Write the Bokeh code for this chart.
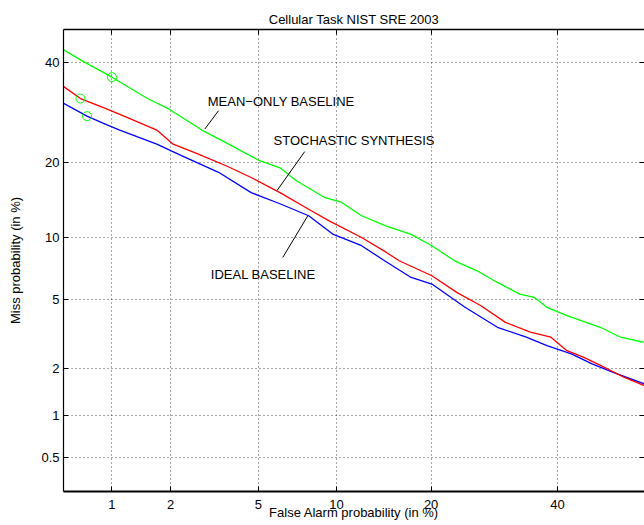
from statistics import NormalDist
from bokeh.plotting import figure
from bokeh.models import Label, LinearAxis, FixedTicker, Range1d
from bokeh.embed import file_html
from bokeh.resources import INLINE

# ---------------- data (percent) ----------------
fa_ticks = [1, 2, 5, 10, 20, 40]
miss_ticks = [0.5, 1, 2, 5, 10, 20, 40]
fa_limits = [0.536, 56.0]
miss_limits = [0.278, 47.5]

ideal_fa = [0.53, 0.73, 0.90, 1.10, 1.71, 2.26, 3.36, 4.66, 6.12, 7.91, 9.74, 12.2, 14.5,
            17.5, 20.1, 24.7, 29.7, 34.5, 38.1, 42.5, 46.3, 50.1, 56.0]
ideal_miss = [31.1, 28.4, 27.0, 25.7, 23.1, 21.1, 18.4, 15.4, 13.9, 12.4, 10.3, 9.16, 7.79,
              6.46, 5.99, 4.53, 3.52, 3.09, 2.76, 2.47, 2.15, 1.91, 1.61]

stoch_fa = [0.53, 0.67, 0.90, 1.16, 1.71, 2.06, 2.70, 3.65, 4.66, 6.12, 7.91, 9.41, 12.2,
            14.7, 16.1, 20.1, 23.5, 27.1, 31.0, 35.2, 38.8, 41.7, 44.8, 48.5, 52.3, 56.0]
stoch_miss = [34.7, 32.0, 30.1, 28.4, 25.7, 23.1, 21.4, 19.4, 17.6, 15.4, 13.2, 11.8, 9.98,
              8.53, 7.79, 6.59, 5.43, 4.62, 3.75, 3.30, 3.09, 2.58, 2.35, 2.05, 1.77, 1.57]

mean_fa = [0.53, 0.69, 1.00, 1.55, 1.97, 2.82, 3.50, 5.03, 6.12, 7.10, 9.09, 10.4, 12.2,
           14.7, 17.5, 20.1, 23.2, 26.5, 29.7, 33.4, 35.9, 38.1, 41.7, 47.8, 51.6, 55.8]
mean_miss = [42.9, 40.2, 36.6, 31.9, 29.8, 25.7, 23.7, 20.3, 19.1, 17.1, 14.7, 14.1, 12.4,
             11.2, 10.3, 9.16, 7.79, 6.97, 6.10, 5.32, 5.11, 4.53, 4.08, 3.52, 3.09, 2.89]

marker_fa = [1.00, 0.67, 0.73]
marker_miss = [36.6, 32.0, 28.4]

# annotations: (text, text anchor fa/miss, leader line start fa/miss, end fa/miss)
annotations = [
    ("MEAN\u2212ONLY BASELINE", (3.00, 31.3), (3.36, 29.5), (2.91, 25.9)),
    ("STOCHASTIC SYNTHESIS", (5.77, 23.8), (7.64, 21.8), (5.96, 15.7)),
    ("IDEAL BASELINE", (3.10, 6.72), (7.85, 12.4), (6.28, 8.08)),
]

nd = NormalDist()


def probit(vals):
    return [nd.inv_cdf(v / 100.0) for v in vals]


FONT = "Liberation Sans"

p = figure(width=644, height=525, output_backend="svg", toolbar_location=None,
           x_range=Range1d(*probit(fa_limits)), y_range=Range1d(*probit(miss_limits)),
           min_border_left=63, min_border_right=0, min_border_top=29, min_border_bottom=34)

bottom = p.below[0]
left = p.left[0]

p.title.text = "Cellular Task NIST SRE 2003"
p.title.align = "center"
p.title.vertical_align = "middle"
p.title.text_font = FONT
p.title.text_font_style = "normal"
p.title.text_font_size = "13px"
p.title.text_color = "black"
p.title.standoff = 4
p.title.offset = 0

xt = FixedTicker(ticks=probit(fa_ticks))
yt = FixedTicker(ticks=probit(miss_ticks))
xlab = {k: str(v) for k, v in zip(probit(fa_ticks), fa_ticks)}
ylab = {k: str(v) for k, v in zip(probit(miss_ticks), miss_ticks)}

p.outline_line_color = None
p.background_fill_color = "white"
p.border_fill_color = "white"

top = LinearAxis(ticker=xt)
right = LinearAxis(ticker=yt)
p.add_layout(top, "above")
p.add_layout(right, "right")
bottom.ticker = xt
left.ticker = yt

for ax in [bottom, left, top, right]:
    ax.major_tick_in = 5
    ax.major_tick_out = 0
    ax.minor_tick_in = 0
    ax.minor_tick_out = 0
    ax.major_tick_line_color = "black"
    ax.axis_line_color = "black"
    ax.major_label_text_font = FONT
    ax.major_label_text_font_size = "13px"
    ax.major_label_text_color = "black"
    ax.axis_label_text_font = FONT
    ax.axis_label_text_font_size = "13px"
    ax.axis_label_text_font_style = "normal"
    ax.axis_label_text_color = "black"

bottom.major_label_overrides = xlab
left.major_label_overrides = ylab
top.major_label_overrides = {k: "" for k in xlab}
right.major_label_overrides = {k: "" for k in ylab}
bottom.axis_label = "False Alarm probability (in %)"
left.axis_label = "Miss probability (in %)"
bottom.major_label_standoff = 8
bottom.axis_label_standoff = -7
left.major_label_standoff = 4
left.axis_label_standoff = 15
bottom.axis_line_width = 1.8
left.axis_line_width = 1.2
top.axis_line_width = 1.5
right.axis_line_color = None
for ax in [top, right]:
    ax.major_label_standoff = 0
    ax.axis_label = None

p.xgrid.ticker = xt
p.ygrid.ticker = yt
for g in [p.xgrid, p.ygrid]:
    g.grid_line_color = "black"
    g.grid_line_alpha = 0.7
    g.grid_line_dash = "1 3"
    g.grid_line_width = 1

p.line(probit(ideal_fa), probit(ideal_miss), line_color="#0000ff", line_width=1.3)
p.line(probit(stoch_fa), probit(stoch_miss), line_color="#ff0000", line_width=1.3)
p.line(probit(mean_fa), probit(mean_miss), line_color="#00ff00", line_width=1.3)
p.scatter(probit(marker_fa), probit(marker_miss), marker="circle", size=9,
          fill_color=None, line_color="#00ff00", line_width=1)

for text, (tx, ty), (x0, y0), (x1, y1) in annotations:
    p.segment(x0=probit([x0]), y0=probit([y0]), x1=probit([x1]), y1=probit([y1]),
              line_color="black", line_width=1)
    p.add_layout(Label(x=probit([tx])[0], y=probit([ty])[0], text=text,
                       text_font=FONT, text_font_size="13px", text_color="black",
                       text_baseline="middle", text_align="left"))

open("out.html", "w", encoding="utf-8").write(file_html(p, INLINE))
